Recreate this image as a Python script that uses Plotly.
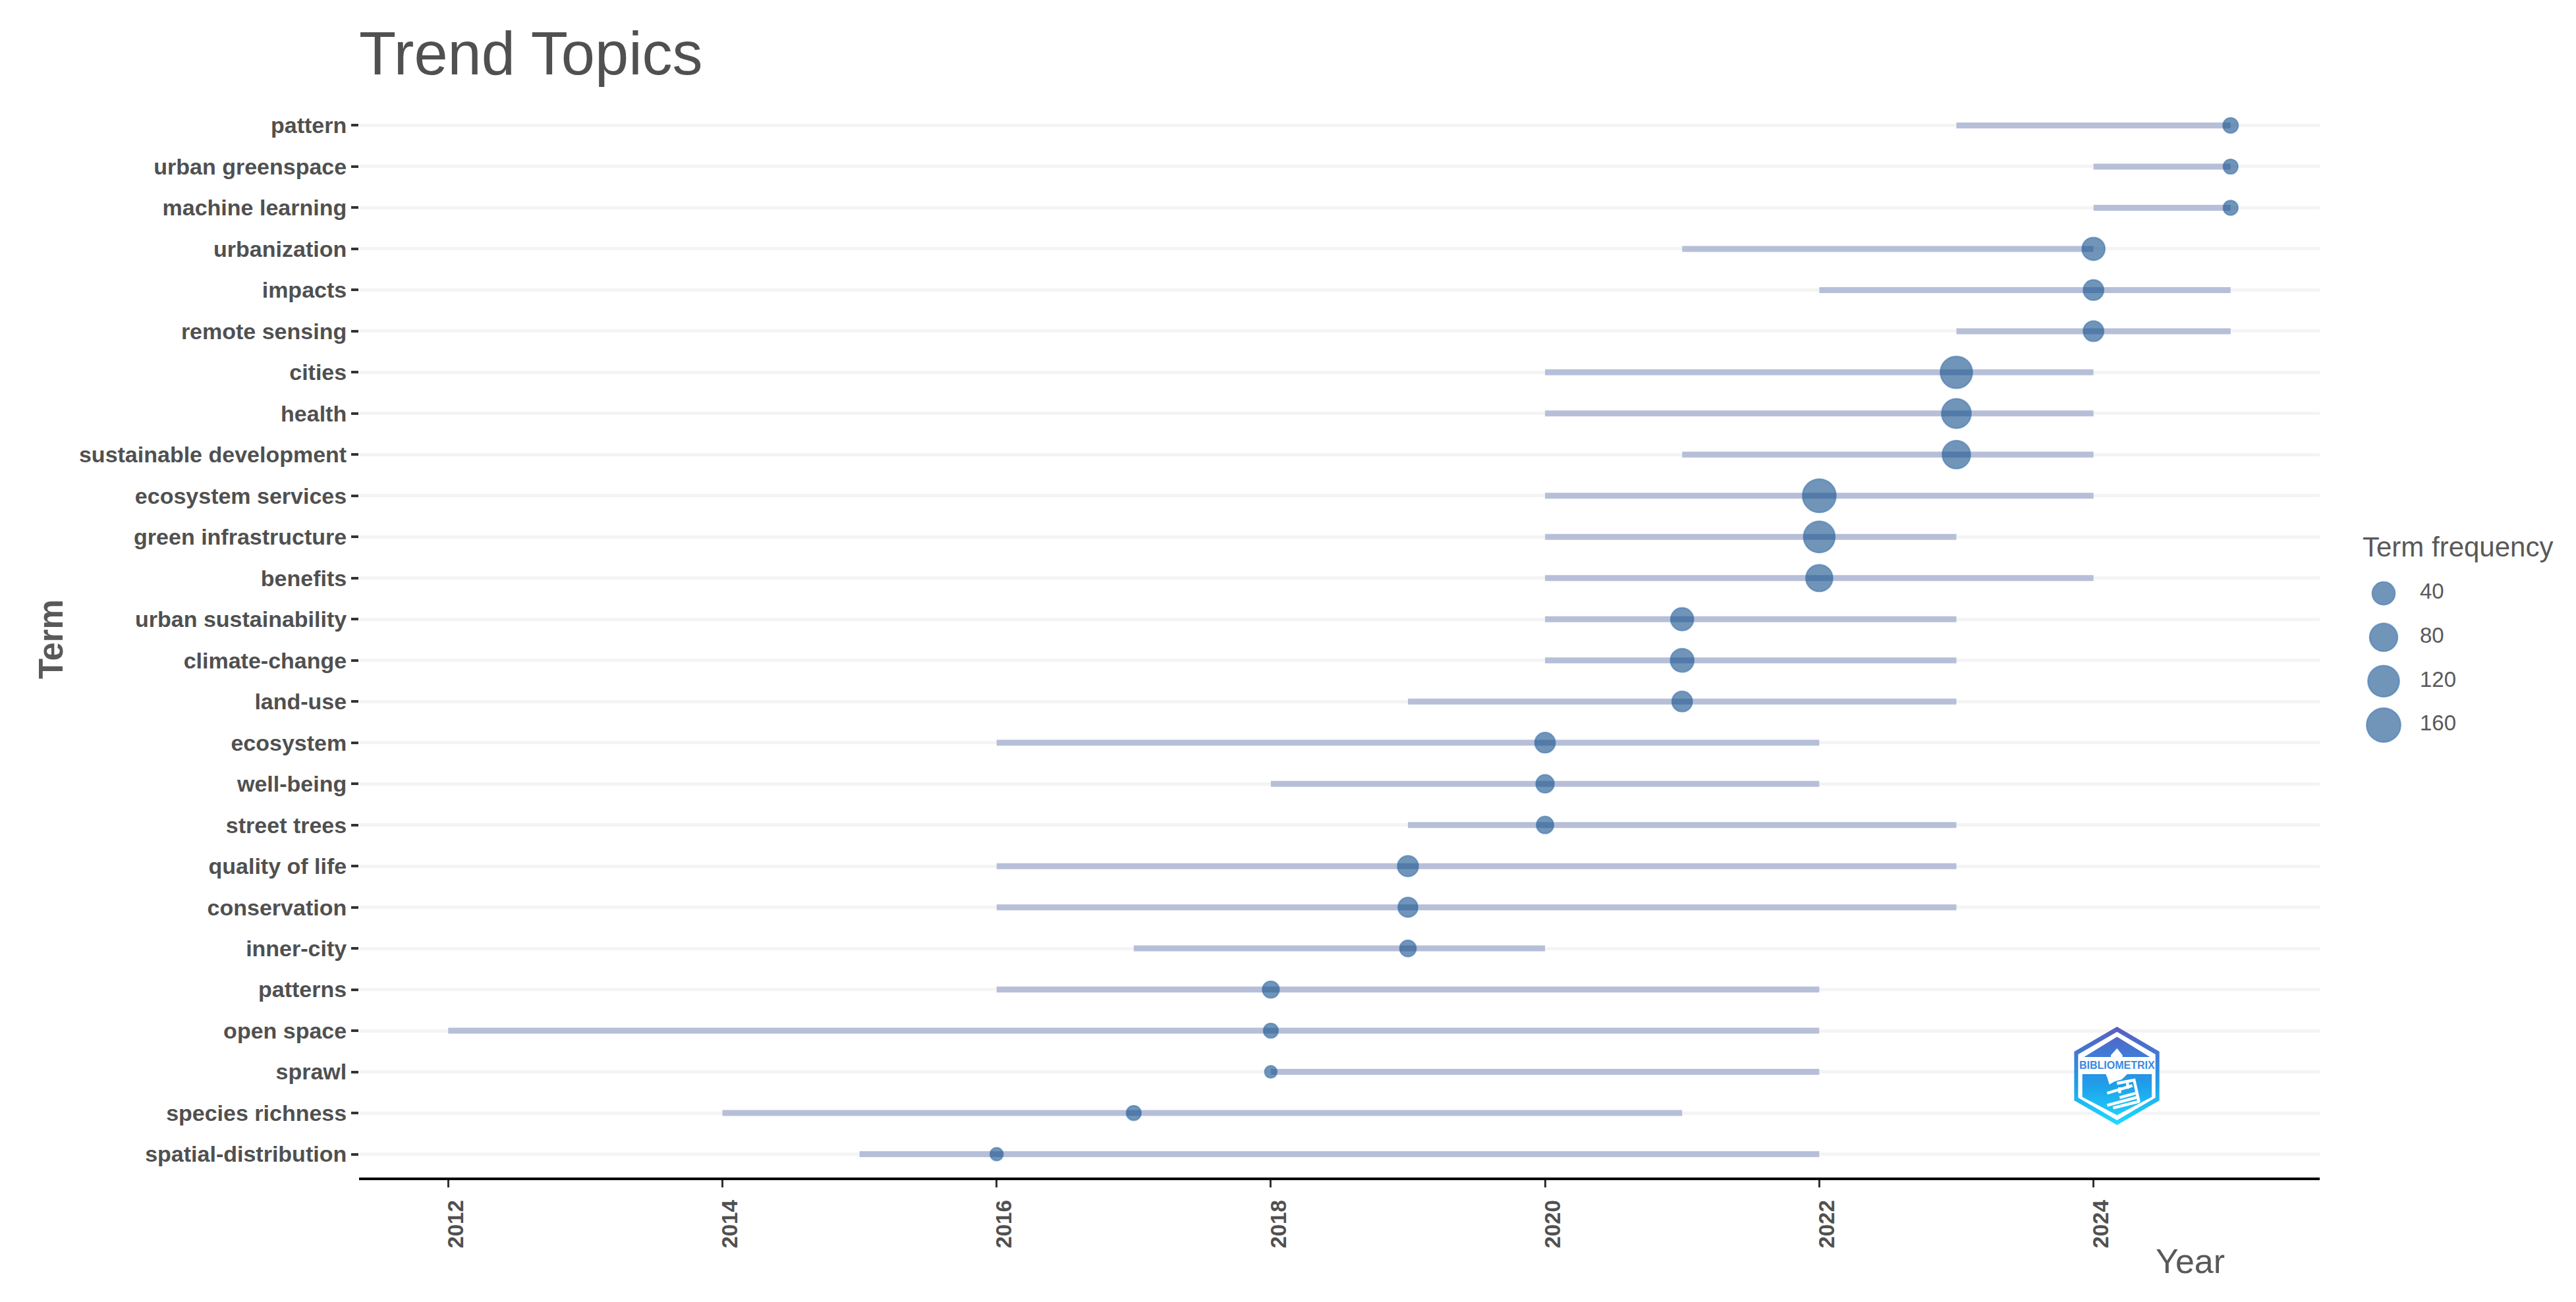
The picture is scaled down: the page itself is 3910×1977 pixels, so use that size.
import base64
import plotly.graph_objects as go

terms = ["pattern", "urban greenspace", "machine learning", "urbanization", "impacts", "remote sensing",
         "cities", "health", "sustainable development", "ecosystem services", "green infrastructure",
         "benefits", "urban sustainability", "climate-change", "land-use", "ecosystem", "well-being",
         "street trees", "quality of life", "conservation", "inner-city", "patterns", "open space",
         "sprawl", "species richness", "spatial-distribution"]
year_q1 = [2023, 2024, 2024, 2021, 2022, 2023, 2020, 2020, 2021, 2020, 2020, 2020, 2020, 2020, 2019,
           2016, 2018, 2019, 2016, 2016, 2017, 2016, 2012, 2018, 2014, 2015]
year_q3 = [2025, 2025, 2025, 2024, 2025, 2025, 2024, 2024, 2024, 2024, 2023, 2024, 2023, 2023, 2023,
           2022, 2022, 2023, 2023, 2023, 2020, 2022, 2022, 2022, 2021, 2022]
year_med = [2025, 2025, 2025, 2024, 2024, 2024, 2023, 2023, 2023, 2022, 2022, 2022, 2021, 2021, 2021,
            2020, 2020, 2020, 2019, 2019, 2019, 2018, 2018, 2018, 2017, 2016]
freq = [10, 9, 9, 40, 27, 27, 130, 97, 82, 150, 121, 70, 40, 44, 27, 27, 18, 15, 29, 24, 13, 14, 9, 5, 9, 6]
x_ticks = [2012, 2014, 2016, 2018, 2020, 2022, 2024]
legend_values = [40, 80, 120, 160]

W, H = 3910, 1977
OFF = 8  # the page's own margin moves everything by this many pixels
L, R, T, B = 545 - OFF, 3521 - OFF, 153 - OFF, 1788 - OFF
TEXT = "#505050"
SOFT = "#595959"


def diameter(v):
    return 13.5 * v ** 0.273


POINT_FILL = "rgba(16,78,139,0.6)"
POINT_EDGE = "rgba(60,115,175,0.55)"
EDGE_W = 2

seg_x, seg_y = [], []
for t, a, b in zip(terms, year_q1, year_q3):
    seg_x += [a, b, None]
    seg_y += [t, t, None]

fig = go.Figure()
fig.add_trace(go.Scatter(x=seg_x, y=seg_y, mode="lines", showlegend=False,
                         line=dict(color="#b7bfd8", width=9), hoverinfo="skip"))
fig.add_trace(go.Scatter(x=year_med, y=terms, mode="markers", showlegend=False,
                         customdata=freq,
                         marker=dict(size=[diameter(v) - EDGE_W for v in freq], color=POINT_FILL, opacity=1,
                                     line=dict(color=POINT_EDGE, width=EDGE_W))))

# size key, drawn on its own small axes
leg_y = [str(v) for v in legend_values]
fig.add_trace(go.Scatter(x=[0] * 4, y=leg_y, xaxis="x2", yaxis="y2", mode="markers", showlegend=False,
                         marker=dict(size=[diameter(v) - EDGE_W for v in legend_values], color=POINT_FILL, opacity=1,
                                     line=dict(color=POINT_EDGE, width=EDGE_W))))
fig.add_trace(go.Scatter(x=[55] * 4, y=leg_y, xaxis="x2", yaxis="y2", mode="text", showlegend=False,
                         text=leg_y, textposition="middle right",
                         textfont=dict(family="Liberation Sans", size=33, color=SOFT)))

logo_svg = """<svg xmlns='http://www.w3.org/2000/svg' viewBox='0 0 510 525' width='510' height='525'>
<defs><linearGradient id='g' gradientUnits='userSpaceOnUse' x1='0' y1='42' x2='0' y2='490'>
<stop offset='0' stop-color='#5a5cbf'/><stop offset='0.35' stop-color='#3a82dc'/>
<stop offset='0.6' stop-color='#1ea0ea'/><stop offset='1' stop-color='#1fdcff'/></linearGradient></defs>
<path d='M250 42L443 155V378L250 490L55 378V155Z' fill='url(#g)'/>
<path d='M250 65L425 168V365L250 468L73 365V168Z' fill='#fff'/>
<path d='M250 88L400 180H100Z' fill='url(#g)'/>
<path d='M250 140L275 172V190H222V172Z' fill='#fff'/>
<path d='M92 258H408V362L250 445L92 362Z' fill='url(#g)'/>
<path d='M195 250H305L272 282L238 292L215 305L205 272Z' fill='#fff'/>
<g stroke='#fff' stroke-width='13' fill='none'>
<path d='M250 300L328 285L350 385'/><path d='M205 345L320 310'/><path d='M262 365L335 345'/>
<path d='M205 400L348 362'/><path d='M232 412L352 382'/><path d='M262 318V345M298 298V325'/></g>
</svg>"""
logo_uri = "data:image/svg+xml;base64," + base64.b64encode(logo_svg.encode()).decode()

fig.update_layout(
    width=W, height=H, autosize=False,
    margin=dict(l=0, r=0, t=0, b=0),
    paper_bgcolor="white", plot_bgcolor="white", showlegend=False,
    font=dict(family="Liberation Sans", color=TEXT),
    title=dict(text="Trend Topics", x=L / W, xanchor="left", xref="paper", yref="container",
               y=1 - (81 - OFF) / H, yanchor="middle",
               font=dict(family="Liberation Sans", size=92, color=TEXT)),
    xaxis=dict(domain=[L / W, R / W], range=[2011.35, 2025.65], tickmode="array", tickvals=x_ticks,
               ticktext=[str(v) for v in x_ticks], tickangle=-90, ticks="outside", ticklen=11, tickwidth=3,
               tickcolor="#333333", showgrid=False, zeroline=False, showline=True, linecolor="black",
               linewidth=4, ticklabelshift=12, ticklabelstandoff=6, automargin=False,
               tickfont=dict(family="Liberation Sans", size=33, color=TEXT, weight="bold")),
    yaxis=dict(domain=[1 - B / H, 1 - T / H], type="category", categoryorder="array",
               categoryarray=terms[::-1], range=[-0.568, 25.6], ticks="outside", ticklen=11, tickwidth=4,
               tickcolor="#333333", showgrid=True, gridcolor="#f4f4f4", gridwidth=5, zeroline=False,
               showline=False, ticklabelstandoff=0, automargin=False,
               title=dict(text="Term", standoff=8,
                          font=dict(family="Liberation Sans", size=51, color=SOFT, weight="bold")),
               tickfont=dict(family="Liberation Sans", size=34, color=TEXT, weight="bold")),
    xaxis2=dict(domain=[(3580 - OFF) / W, (3880 - OFF) / W], range=[-38, 262], visible=False, anchor="y2"),
    yaxis2=dict(domain=[1 - (1134.3 - OFF) / H, 1 - (867.7 - OFF) / H], type="category", categoryorder="array",
                categoryarray=leg_y, range=[3.5, -0.5], visible=False, anchor="x2"),
    annotations=[
        dict(text="Year", xref="paper", yref="paper", x=(3270 - OFF) / W, y=1 - (1915 - OFF) / H, xanchor="left",
             yanchor="middle", showarrow=False, font=dict(family="Liberation Sans", size=52, color=SOFT)),
        dict(text="Term frequency", xref="paper", yref="paper", x=(3584 - OFF) / W, y=1 - (830 - OFF) / H,
             xanchor="left", yanchor="middle", showarrow=False,
             font=dict(family="Liberation Sans", size=42, color=SOFT)),
        dict(text="BIBLIOMETRIX", xref="paper", yref="paper", x=(3213 - OFF) / W, y=1 - (1617 - OFF) / H,
             xanchor="center", yanchor="middle", showarrow=False,
             font=dict(family="Liberation Sans", size=16, color="#3a8ae0", weight="bold")),
    ],
    images=[dict(source=logo_uri, xref="paper", yref="paper", x=(3130 - OFF) / W, y=1 - (1545 - OFF) / H,
                 sizex=170 / W, sizey=175 / H, xanchor="left", yanchor="top", sizing="stretch", layer="above")],
)

fig.write_html("out.html")
